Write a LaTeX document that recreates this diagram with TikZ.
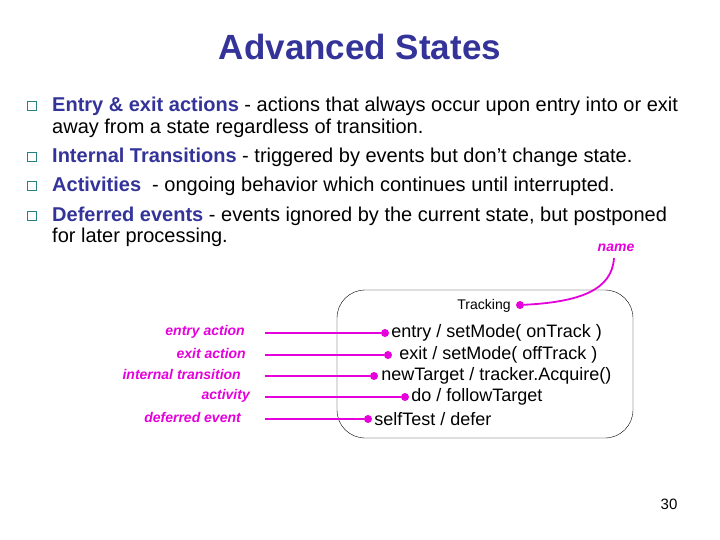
\documentclass[tikz,border=0pt]{standalone}
\usepackage{fontspec}
\setmainfont{Liberation Sans}
\usetikzlibrary{positioning}
\definecolor{navy}{RGB}{51,51,153}
\definecolor{pinkish}{RGB}{230,0,220}
\definecolor{tealbox}{RGB}{40,130,130}
\tikzset{
    %Define style for bullet squares
    bul/.style={draw=tealbox, thick, fill=white, minimum size=9pt, inner sep=0pt},
    %Define style for bullet text
    btext/.style={anchor=west, font=\fontsize{20}{24}\selectfont, inner sep=0pt},
    %Define style for labels
    lbl/.style={anchor=east, text=pinkish, font=\fontsize{14}{16}\selectfont\bfseries\itshape, inner sep=0pt},
    %Define style for state text
    stext/.style={anchor=west, font=\fontsize{18}{21}\selectfont, inner sep=0pt},
    % Define line style
    pin/.style={pinkish, line width=1.8pt},
    dot/.style={circle, fill=pinkish, inner sep=0pt, minimum size=8pt}
}
\newcommand{\hd}[1]{\textcolor{navy}{\textbf{#1}}}
\begin{document}
\begin{tikzpicture}[x=1pt, y=-1pt]
\useasboundingbox (0,0) rectangle (720,540);
\node[text=navy, font=\fontsize{35}{40}\selectfont\bfseries] (title) at (360,47) {Advanced States};
% bullets
\node[bul] (b1) at (32,106) {};
\node[bul] (b2) at (32,157) {};
\node[bul] (b3) at (32,186) {};
\node[bul] (b4) at (32,216) {};
\node[btext] (t1) at (52,106) {\hd{Entry \& exit actions} - actions that always occur upon entry into or exit};
\node[btext] (t1b) at (52,128) {away from a state regardless of transition.};
\node[btext] (t2) at (52,157) {\hd{Internal Transitions} - triggered by events but don’t change state.};
\node[btext] (t3) at (52,186) {\hd{Activities}\ \ - ongoing behavior which continues until interrupted.};
\node[btext] (t4) at (52,216) {\hd{Deferred events} - events ignored by the current state, but postponed};
\node[btext] (t4b) at (52,237) {for later processing.};
% state
\draw[rounded corners=28pt] (337,290) rectangle (633,438);
\node[font=\fontsize{14}{16}\selectfont, inner sep=0pt] (trk) at (484,306) {Tracking};
\node[dot] (dname) at (520,305) {};
\node[lbl, anchor=center] (name) at (616,248) {name};
\draw[pin] (dname) .. controls (580,302) and (612,290) .. (614,258);
% rows
\node[dot] (d1) at (385,333) {};
\node[stext, right=2pt of d1] (s1) {entry / setMode( onTrack )};
\node[dot] (d2) at (388,355) {};
\node[stext, right=7pt of d2] (s2) {exit / setMode( offTrack )};
\node[dot] (d3) at (374,376) {};
\node[stext, right=3pt of d3] (s3) {newTarget / tracker.Acquire()};
\node[dot] (d4) at (405,397) {};
\node[stext, right=2pt of d4] (s4) {do / followTarget};
\node[dot] (d5) at (368,419) {};
\node[stext, right=2pt of d5] (s5) {selfTest / defer};
% labels
\coordinate (c1) at (265,333);
\coordinate (c2) at (265,355);
\coordinate (c3) at (265,376);
\coordinate (c4) at (265,397);
\coordinate (c5) at (265,419);
\node[lbl] (l1) at (245,332) {entry action};
\node[lbl] (l2) at (246,353) {exit action};
\node[lbl] (l3) at (241,374) {internal transition};
\node[lbl] (l4) at (250,396) {activity};
\node[lbl] (l5) at (241,417) {deferred event};
\foreach \i in {1,...,5}
  \draw[pin] (c\i) -- (d\i);
\node[font=\fontsize{15}{17}\selectfont] (page) at (669,504) {30};
\end{tikzpicture}
\end{document}
